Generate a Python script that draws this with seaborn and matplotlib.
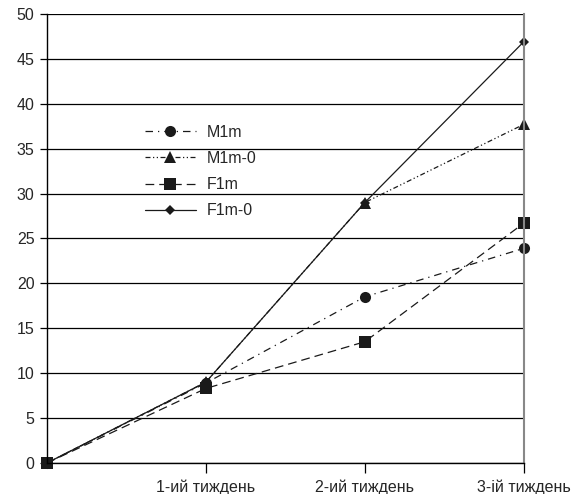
import matplotlib
matplotlib.use("Agg")
import matplotlib.pyplot as plt
import seaborn as sns
import pandas as pd

weeks = [0, 1, 2, 3]
week_labels = ["1-ий тиждень", "2-ий тиждень", "3-ій тиждень"]
series_names = ["M1m", "M1m-0", "F1m", "F1m-0"]
m1m = [0, 8.9, 18.5, 23.9]
m1m0 = [0, 9.0, 29.0, 37.7]
f1m = [0, 8.3, 13.5, 26.7]
f1m0 = [0, 9.0, 29.0, 46.9]

values = [m1m, m1m0, f1m, f1m0]
rows = []
for name, vals in zip(series_names, values):
    for w, v in zip(weeks, vals):
        rows.append({"week": w, "value": v, "series": name})
df = pd.DataFrame(rows)

sns.set_style("white")
plt.rcParams["font.family"] = ["Liberation Sans", "DejaVu Sans"]

fig = plt.figure(figsize=(5.8, 4.94), dpi=100)
ax = fig.add_axes([0.081, 0.0628, 0.822, 0.909])

markers = {"M1m": "o", "M1m-0": "^", "F1m": "s", "F1m-0": "D"}
dashes = {"M1m": (6, 4, 1, 4), "M1m-0": (4, 2, 1, 2, 1, 2), "F1m": (7, 4), "F1m-0": ""}
palette = {n: "#1a1a1a" for n in series_names}

sns.lineplot(data=df, x="week", y="value", hue="series", style="series",
             markers=markers, dashes=dashes, palette=palette, ax=ax,
             linewidth=0.9, markersize=8, markeredgewidth=0, legend="full")
for i, line in enumerate(ax.lines[:4]):
    if series_names[i] == "F1m-0":
        line.set_markersize(5.5)

ax.set_xlim(0, 3)
ax.set_ylim(0, 50)
ax.set_yticks(range(0, 51, 5))
ax.set_xticks([1, 2, 3])
ax.set_xticklabels(week_labels)
ax.set_xlabel("")
ax.set_ylabel("")
ax.yaxis.grid(True, color="black", linewidth=0.9)
ax.xaxis.grid(False)
ax.set_axisbelow(True)
ax.spines["top"].set_visible(False)
ax.spines["left"].set_color("black")
ax.spines["left"].set_linewidth(1.0)
ax.spines["bottom"].set_color("black")
ax.spines["bottom"].set_linewidth(1.0)
ax.spines["right"].set_color("#888888")
ax.spines["right"].set_linewidth(1.5)
ax.tick_params(axis="y", direction="out", length=5, width=0.9, color="black", labelsize=11.5, pad=4, left=True)
ax.tick_params(axis="x", direction="out", length=7, width=0.9, color="black", labelsize=11.5, pad=5, bottom=True)
for line in ax.lines:
    line.set_clip_on(False)

leg = ax.legend(loc="upper left", bbox_to_anchor=(0.175, 0.785), frameon=False,
                fontsize=11.5, labelspacing=0.7, handlelength=3.2, handletextpad=0.7)
for h in leg.legend_handles:
    h.set_color("#1a1a1a")
    if h.get_label() == "F1m-0":
        h.set_markersize(5.5)
    else:
        h.set_markersize(8)

fig.savefig("out.png", dpi=100)
